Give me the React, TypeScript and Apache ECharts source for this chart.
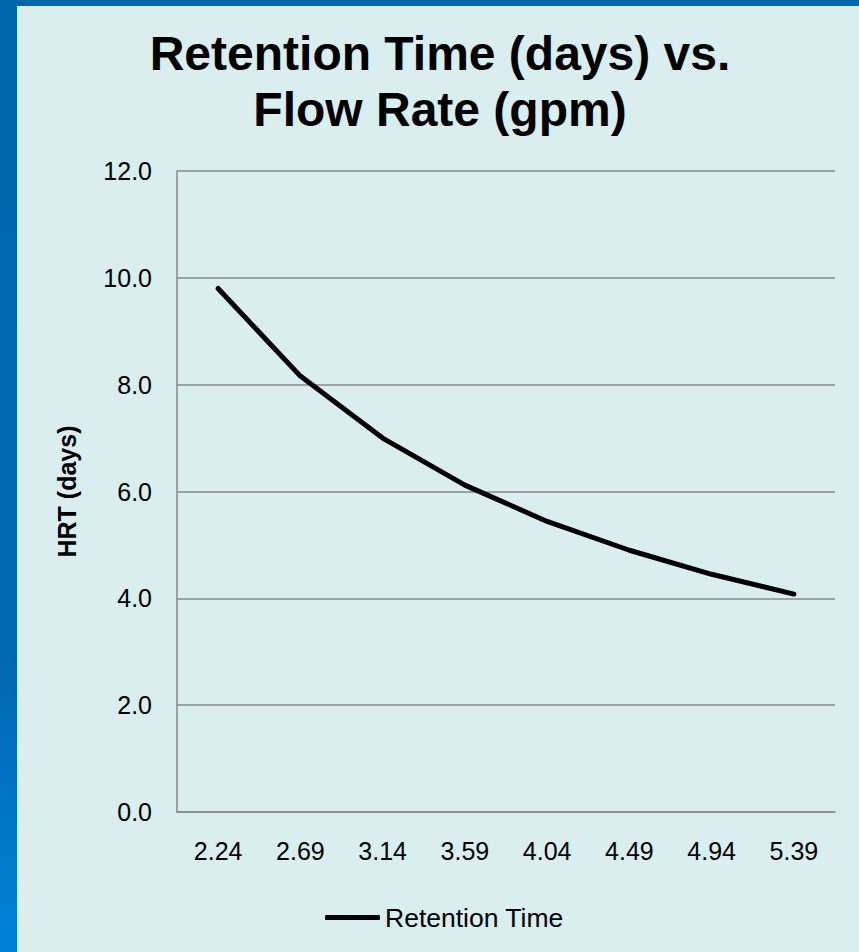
import React, { useEffect, useRef } from "react";
import * as echarts from "echarts";

const titleText = "Retention Time (days) vs.\nFlow Rate (gpm)";
const flowRates = ["2.24", "2.69", "3.14", "3.59", "4.04", "4.49", "4.94", "5.39"];
const retentionTime = [9.8, 8.16, 7.0, 6.12, 5.44, 4.9, 4.45, 4.08];
const seriesName = "Retention Time";
const yAxisName = "HRT (days)";

export default function App() {
  const ref = useRef<HTMLDivElement>(null);
  useEffect(() => {
    document.body.style.margin = "0";
    if (!ref.current) return;
    const chart = echarts.init(ref.current, undefined, { renderer: "svg" });
    const font = "'Liberation Sans', Arial, sans-serif";
    chart.setOption({
      animation: false,
      backgroundColor: {
        type: "linear",
        x: 0,
        y: 0,
        x2: 0,
        y2: 1,
        colorStops: [
          { offset: 0, color: "#0066AE" },
          { offset: 0.7, color: "#0068B2" },
          { offset: 1, color: "#0082D8" },
        ],
      },
      graphic: [
        {
          type: "rect",
          z: -10,
          shape: { x: 17, y: 6, width: 842, height: 946 },
          style: { fill: "#DAEDEF" },
          silent: true,
        },
      ],
      title: {
        text: titleText,
        left: 435,
        top: 20,
        textAlign: "center",
        textStyle: {
          fontFamily: font,
          fontSize: 48,
          fontWeight: "bold",
          color: "#000",
          lineHeight: 56,
        },
      },
      grid: { left: 177, right: 24, top: 171, bottom: 140, containLabel: false },
      legend: {
        left: 325,
        top: 904,
        padding: 0,
        icon: "roundRect",
        itemWidth: 55,
        itemHeight: 5,
        itemGap: 5,
        data: [seriesName],
        textStyle: { fontFamily: font, fontSize: 26.5, color: "#000" },
        itemStyle: { color: "#000" },
      },
      xAxis: {
        type: "category",
        data: flowRates,
        boundaryGap: true,
        axisLine: { show: true, lineStyle: { color: "#898989", width: 1.5 } },
        axisTick: { show: false },
        axisLabel: { fontFamily: font, fontSize: 25, color: "#000", margin: 26 },
        splitLine: { show: false },
      },
      yAxis: {
        type: "value",
        min: 0,
        max: 12,
        interval: 2,
        name: yAxisName,
        nameLocation: "middle",
        nameGap: 98,
        nameTextStyle: { fontFamily: font, fontSize: 25, fontWeight: "bold", color: "#000" },
        axisLine: { show: true, lineStyle: { color: "#898989", width: 1.5 } },
        axisTick: { show: false },
        axisLabel: {
          fontFamily: font,
          fontSize: 25,
          color: "#000",
          margin: 25,
          formatter: (v: number) => v.toFixed(1),
        },
        splitLine: { show: true, lineStyle: { color: "#898989", width: 1.5 } },
      },
      series: [
        {
          name: seriesName,
          type: "line",
          data: retentionTime,
          symbol: "none",
          smooth: false,
          lineStyle: { color: "#000", width: 5, cap: "round", join: "round" },
          itemStyle: { color: "#000" },
        },
      ],
    });
    return () => chart.dispose();
  }, []);
  return <div ref={ref} style={{ width: 859, height: 952 }} />;
}
